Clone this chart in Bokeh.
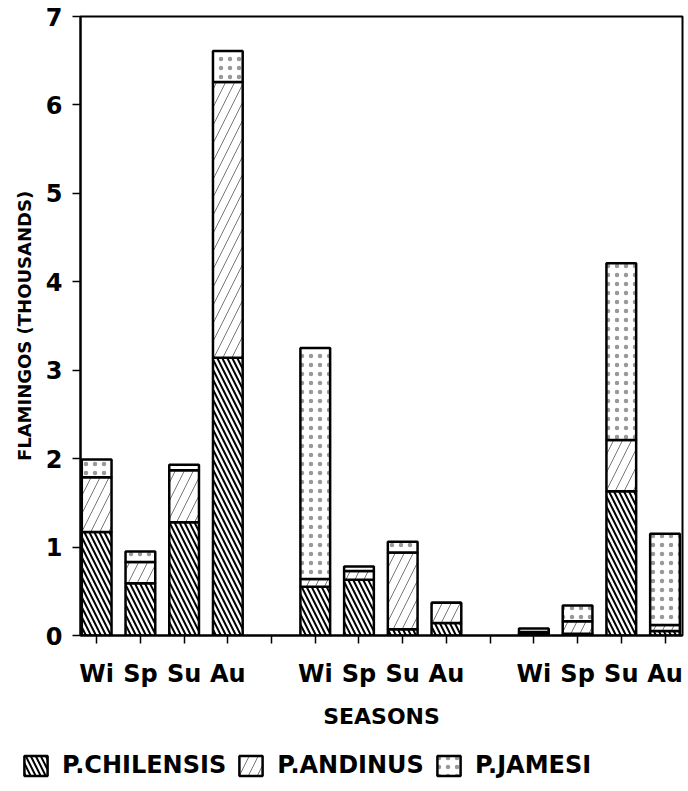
from bokeh.plotting import figure
from bokeh.layouts import column, row
from bokeh.models import ColumnDataSource, Range1d, FixedTicker, Legend, LegendItem
from bokeh.embed import file_html
from bokeh.resources import INLINE

# ---- data (thousands of flamingos) ----
seasons = ["Wi", "Sp", "Su", "Au"]
groups = 3
chilensis = [1.17, 0.59, 1.28, 3.14, 0.55, 0.63, 0.07, 0.14, 0.02, 0.02, 1.63, 0.05]
andinus   = [0.62, 0.24, 0.59, 3.12, 0.09, 0.10, 0.87, 0.23, 0.02, 0.14, 0.58, 0.07]
jamesi    = [0.20, 0.12, 0.06, 0.35, 2.61, 0.05, 0.12, 0.00, 0.04, 0.18, 2.00, 1.03]
species = ["P.CHILENSIS", "P.ANDINUS", "P.JAMESI"]
y_ticks = [0, 1, 2, 3, 4, 5, 6, 7]

xs = [5 * g + s for g in range(groups) for s in range(len(seasons))]
source = ColumnDataSource(dict(x=xs, chilensis=chilensis, andinus=andinus, jamesi=jamesi))

FONT = "DejaVu Sans"
patterns = ["\\", "/", "dot"]
hcolors = ["black", "#777777", "#999999"]
hweights = [2.0, 1.0, 1.5]
hscales = [10, 18, 9]

p = figure(width=684, height=743, output_backend="svg", toolbar_location=None,
           x_range=Range1d(-0.37, 13.4), y_range=Range1d(0, 7),
           min_border_left=80, min_border_right=2, min_border_top=16, min_border_bottom=108,
           background_fill_color="white", border_fill_color="white")

rs = p.vbar_stack(["chilensis", "andinus", "jamesi"], x="x", width=0.68, source=source,
                  fill_color="white", line_color="black", line_width=2.5,
                  hatch_pattern=patterns, hatch_color=hcolors,
                  hatch_weight=hweights, hatch_scale=hscales)

p.xgrid.visible = False
p.ygrid.visible = False
p.outline_line_color = "black"
p.outline_line_width = 2

tick_pos = list(range(14))
overrides = {}
for t in tick_pos:
    g, s = divmod(t, 5)
    overrides[t] = seasons[s] if s < 4 else ""
p.xaxis.ticker = FixedTicker(ticks=tick_pos)
p.xaxis.major_label_overrides = overrides
p.xaxis.axis_label = "SEASONS"
p.yaxis.ticker = FixedTicker(ticks=y_ticks)
p.yaxis.axis_label = "FLAMINGOS (THOUSANDS)"

for ax in (p.xaxis, p.yaxis):
    ax.axis_line_width = 2
    ax.axis_line_color = "black"
    ax.major_tick_line_width = 1.5
    ax.major_tick_out = 8
    ax.major_tick_in = 0
    ax.minor_tick_line_color = None
    ax.major_label_text_font = FONT
    ax.major_label_text_font_style = "bold"
    ax.major_label_text_font_size = "24px"
    ax.major_label_text_color = "black"
    ax.axis_label_text_font = FONT
    ax.axis_label_text_font_style = "bold"
    ax.axis_label_text_color = "black"

p.xaxis.major_label_standoff = 16
p.xaxis.axis_label_text_font_size = "22px"
p.xaxis.axis_label_standoff = 13
p.yaxis.major_label_standoff = 10
p.yaxis.axis_label_text_font_size = "18px"
p.yaxis.axis_label_standoff = 8

# ---- legend strip ----
lg = figure(width=684, height=44, output_backend="svg", toolbar_location=None,
            x_axis_location=None, y_axis_location=None,
            x_range=Range1d(0, 1), y_range=Range1d(0, 1),
            min_border_left=0, min_border_right=0, min_border_top=0, min_border_bottom=0,
            background_fill_color="white", border_fill_color="white")
lg.grid.visible = False
lg.outline_line_color = None
dummy = ColumnDataSource(dict(x=[float("nan")], top=[float("nan")]))
lrs = []
for i in range(3):
    lrs.append(lg.vbar(x="x", top="top", width=0.5, source=dummy,
                       fill_color="white", line_color="black", line_width=2.5,
                       hatch_pattern=patterns[i], hatch_color=hcolors[i],
                       hatch_weight=hweights[i], hatch_scale=hscales[i]))

legend = Legend(items=[LegendItem(label=species[i], renderers=[lrs[i]]) for i in range(3)],
                orientation="horizontal", location=(21, 8),
                padding=0, margin=0, spacing=10, label_standoff=12,
                glyph_width=29, glyph_height=25, label_height=25,
                label_text_font=FONT, label_text_font_style="bold",
                label_text_font_size="24px", label_text_color="black",
                border_line_color=None, background_fill_alpha=0)
lg.add_layout(legend, "center")

layout = column(p, row(lg), spacing=0)
open("out.html", "w").write(file_html(layout, INLINE))
